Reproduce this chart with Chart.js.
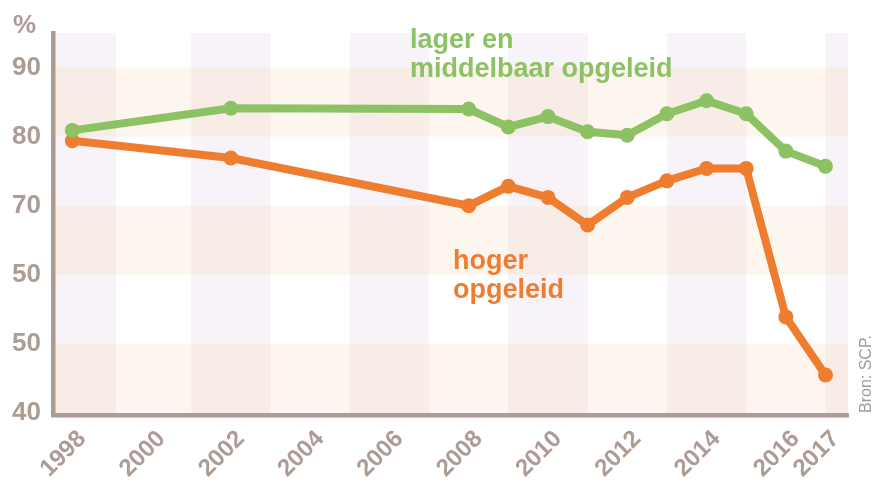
<!DOCTYPE html>
<html>
<head>
<meta charset="utf-8">
<script src="https://cdn.jsdelivr.net/npm/chart.js@4"></script>
<style>
  html, body { margin: 0; padding: 0; background: #fff; }
  #wrap { width: 880px; height: 482px; }
</style>
</head>
<body>
<div id="wrap"><canvas id="chart" width="880" height="482"></canvas></div>
<script>
// data
const years = [1998, 2002, 2008, 2009, 2010, 2011, 2012, 2013, 2014, 2015, 2016, 2017];
const lagerMiddelbaar = [80.9, 84.1, 84.0, 81.4, 82.9, 80.7, 80.2, 83.3, 85.2, 83.3, 77.9, 75.7];
const hoger = [79.4, 76.9, 70.0, 72.8, 71.2, 67.2, 71.2, 73.6, 75.4, 75.4, 53.9, 45.5];

const xTickYears = [1998, 2000, 2002, 2004, 2006, 2008, 2010, 2012, 2014, 2016, 2017];
const yTickValues = [40, 50, 60, 70, 80, 90];
const yTickLabels = ['40', '50', '50', '70', '80', '90'];

// background check pattern
const bandRanges = [[40, 50], [60, 70], [80, 90]];
const stripeRanges = [[1997, 1999.1], [2001, 2003], [2005, 2007], [2009, 2011], [2013, 2015], [2017, 2019]];

const GREEN = '#8cc164';
const ORANGE = '#ee7d30';
const AXIS = '#ac9c93';
const FONT = '"Liberation Sans", Arial, Helvetica, sans-serif';

const checkPlugin = {
  id: 'check',
  beforeDraw(chart) {
    const { ctx, chartArea: a, scales: { x, y } } = chart;
    ctx.save();
    ctx.beginPath();
    ctx.rect(a.left, a.top, a.right - a.left, a.bottom - a.top);
    ctx.clip();
    const bands = bandRanges.map(([lo, hi]) => [y.getPixelForValue(hi), y.getPixelForValue(lo)]);
    const stripes = stripeRanges.map(([lo, hi]) => [x.getPixelForValue(lo), x.getPixelForValue(hi)]);
    ctx.fillStyle = '#fdf6ee';
    bands.forEach(([t, b]) => ctx.fillRect(a.left, t, a.right - a.left, b - t));
    ctx.fillStyle = '#f8f3f8';
    stripes.forEach(([l, r]) => ctx.fillRect(l, a.top, r - l, a.bottom - a.top));
    ctx.fillStyle = '#f8ece7';
    bands.forEach(([t, b]) => stripes.forEach(([l, r]) => ctx.fillRect(l, t, r - l, b - t)));
    ctx.restore();
  },
  afterDraw(chart) {
    const { ctx } = chart;
    ctx.save();
    ctx.textBaseline = 'alphabetic';
    ctx.textAlign = 'left';
    ctx.fillStyle = AXIS;
    ctx.font = 'bold 26px ' + FONT;
    ctx.fillText('%', 13, 33);

    ctx.font = 'bold 27px ' + FONT;
    ctx.fillStyle = GREEN;
    ctx.fillText('lager en', 410, 48);
    ctx.fillText('middelbaar opgeleid', 410, 77);
    ctx.fillStyle = ORANGE;
    ctx.fillText('hoger', 453, 269);
    ctx.fillText('opgeleid', 453, 298);

    ctx.translate(871, 413);
    ctx.rotate(-Math.PI / 2);
    ctx.font = '16px ' + FONT;
    ctx.fillStyle = '#9d9d9d';
    ctx.fillText('Bron: SCP.', 0, 0);
    ctx.restore();
  }
};

function toPoints(vals) {
  return years.map((yr, i) => ({ x: yr, y: vals[i] }));
}

new Chart(document.getElementById('chart'), {
  type: 'line',
  data: {
    datasets: [
      {
        label: 'lager en middelbaar opgeleid',
        data: toPoints(lagerMiddelbaar),
        borderColor: GREEN,
        backgroundColor: GREEN,
        borderWidth: 8,
        pointRadius: 7.5,
        pointBorderWidth: 0,
        tension: 0
      },
      {
        label: 'hoger opgeleid',
        data: toPoints(hoger),
        borderColor: ORANGE,
        backgroundColor: ORANGE,
        borderWidth: 8,
        pointRadius: 7.5,
        pointBorderWidth: 0,
        tension: 0
      }
    ]
  },
  options: {
    responsive: false,
    animation: false,
    layout: { padding: { top: 33, right: 32, bottom: 0, left: 0 } },
    plugins: { legend: { display: false }, tooltip: { enabled: false } },
    scales: {
      x: {
        type: 'linear',
        min: 1997.513,
        max: 2017.568,
        grid: { display: false, drawTicks: false },
        border: { display: true, color: AXIS, width: 4.5 },
        afterBuildTicks: s => { s.ticks = xTickYears.map(v => ({ value: v })); },
        afterFit: s => { s.height = 67; s.paddingLeft = 0; s.paddingRight = 0; },
        ticks: {
          autoSkip: false,
          minRotation: 45,
          maxRotation: 45,
          padding: 10,
          labelOffset: 10,
          color: AXIS,
          font: { family: FONT, size: 24, weight: 'bold' },
          callback: v => String(v)
        }
      },
      y: {
        min: 39.7,
        max: 95,
        grid: { display: false, drawTicks: false },
        border: { display: true, color: AXIS, width: 4.5 },
        afterBuildTicks: s => { s.ticks = yTickValues.map(v => ({ value: v })); },
        afterFit: s => { s.width = 53; s.paddingTop = 0; s.paddingBottom = 0; },
        ticks: {
          padding: 12,
          color: AXIS,
          font: { family: FONT, size: 26, weight: 'bold' },
          callback: v => yTickLabels[yTickValues.indexOf(v)]
        }
      }
    }
  },
  plugins: [checkPlugin]
});
</script>
</body>
</html>
